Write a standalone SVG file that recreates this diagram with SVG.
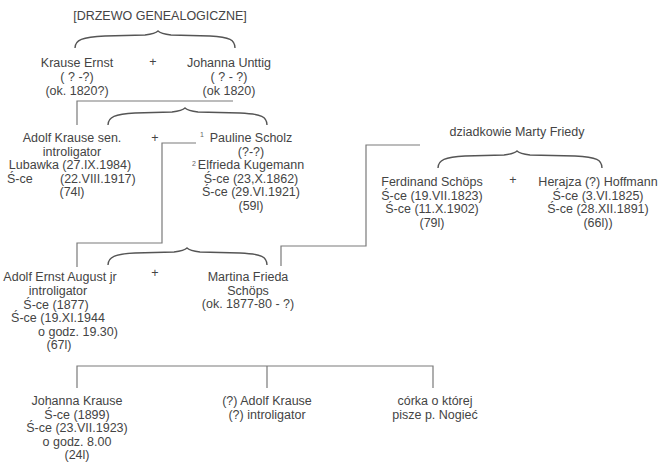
<svg xmlns="http://www.w3.org/2000/svg" width="660" height="463" viewBox="0 0 660 463">
<style>
text{font-family:"Liberation Sans",Arial,sans-serif;font-size:12.5px;fill:#444;text-anchor:middle}
.s{text-anchor:start}
.sup{font-size:7px;fill:#666}
.ln{fill:none;stroke:#7a7a7a;stroke-width:1.2}
.br{fill:none;stroke:#555;stroke-width:1.4}
</style>
<rect width="660" height="463" fill="#fff"/>
<text x="160" y="20">[DRZEWO GENEALOGICZNE]</text>
<g id="connectors">
<path class="br" d="M75,48 C75,40 82,37 105,36 L145,35 C153,34 156,33 158,31 C160,33 163,34 171,35 L210,36 C230,37 235,40 235,48"/>
<path class="ln" d="M77,125 V101 H233"/>
<path class="br" d="M108,125 C108,117 115,114 135,113 L172,112 C180,111 183,110 185,108 C187,110 190,111 198,112 L240,113 C262,114 267,117 267,125"/>
<path class="ln" d="M196,143 H162 V243 H77 V267"/>
<path class="ln" d="M420,145 H366 V246 H281 V266"/>
<path class="br" d="M438,168 C438,160 445,157 465,156 L504,155 C512,154 515,153 517,151 C519,153 522,154 530,155 L575,156 C597,157 602,160 602,168"/>
<path class="br" d="M108,265 C108,257 115,254 135,253 L174,252 C182,251 185,250 187,248 C189,250 192,251 200,252 L240,253 C262,254 267,257 267,265"/>
<path class="ln" d="M77,388 V366 H433 V388 M267,366 V388"/>
</g>
<g id="krause-ernst"><text x="77" y="67">Krause Ernst</text><text x="77" y="81">( ? -?)</text><text x="77" y="94.5">(ok. 1820?)</text></g>
<text x="153" y="66">+</text>
<g id="johanna-unttig"><text x="229" y="67">Johanna Unttig</text><text x="229" y="81">( ? - ?)</text><text x="229" y="94.5">(ok 1820)</text></g>
<g id="adolf-krause-sen"><text x="72" y="142">Adolf Krause sen.</text><text x="72" y="155.5">introligator</text><text x="70" y="169">Lubawka (27.IX.1984)</text><text class="s" x="7" y="182.5">Ś-ce</text><text class="s" x="60" y="182.5">(22.VIII.1917)</text><text x="72" y="196">(74l)</text></g>
<text x="155" y="142">+</text>
<g id="pauline-scholz"><text class="sup" x="202" y="137">1</text><text x="251" y="142">Pauline Scholz</text><text x="251" y="156">(?-?)</text></g>
<g id="elfrieda-kugemann"><text class="sup" x="194" y="166">2</text><text x="251" y="169">Elfrieda Kugemann</text><text x="251" y="182.5">Ś-ce (23,X.1862)</text><text x="251" y="196">Ś-ce (29.VI.1921)</text><text x="251" y="209.5">(59l)</text></g>
<g id="dziadkowie"><text x="517" y="136">dziadkowie Marty Friedy</text></g>
<g id="ferdinand-schoeps"><text x="432" y="186">Ferdinand Schöps</text><text x="432" y="199.5">Ś-ce (19.VII.1823)</text><text x="432" y="213">Ś-ce (11.X.1902)</text><text x="432" y="226.5">(79l)</text></g>
<text x="513" y="184">+</text>
<g id="herajza-hoffmann"><text x="598" y="186">Herajza (?) Hoffmann</text><text x="598" y="199.5">Ś-ce (3.VI.1825)</text><text x="598" y="213">Ś-ce (28.XII.1891)</text><text x="598" y="226.5">(66l))</text></g>
<g id="adolf-ernst-august"><text x="60" y="281">Adolf Ernst August jr</text><text x="58" y="295">introligator</text><text x="56" y="308.5">Ś-ce (1877)</text><text x="58" y="322">Ś-ce (19.XI.1944</text><text class="s" x="38" y="335.5">o godz. 19.30)</text><text x="59" y="349">(67l)</text></g>
<text x="155" y="277">+</text>
<g id="martina-frieda"><text x="248" y="281">Martina Frieda</text><text x="248" y="294.5">Schöps</text><text x="248" y="308">(ok. 1877-80 - ?)</text></g>
<g id="johanna-krause"><text x="77" y="405">Johanna Krause</text><text x="77" y="418.5">Ś-ce (1899)</text><text x="77" y="432">Ś-ce (23.VII.1923)</text><text x="77" y="445.5">o godz. 8.00</text><text x="77" y="459">(24l)</text></g>
<g id="adolf-krause"><text x="267" y="405">(?) Adolf Krause</text><text x="267" y="418.5">(?) introligator</text></g>
<g id="corka"><text x="435" y="405">córka o której</text><text x="435" y="418.5">pisze p. Nogieć</text></g>
</svg>
